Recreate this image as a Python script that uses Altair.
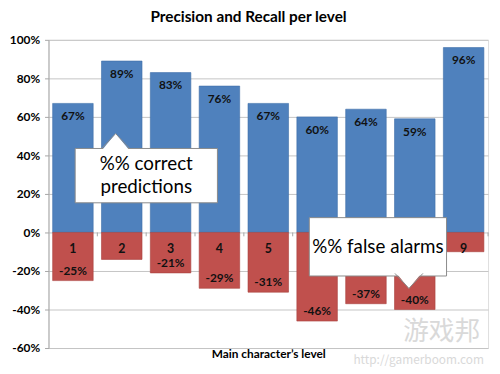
import altair as alt
import pandas as pd

# ---- data ----
levels = [1, 2, 3, 4, 5, 6, 7, 8, 9]
precision = [67, 89, 83, 76, 67, 60, 64, 59, 96]
false_alarms = [-25, -14, -21, -29, -31, -46, -37, -40, -10]
false_label_shown = [True, False, True, True, True, True, True, True, False]
# levels 6-8 are hidden behind the "false alarms" callout in the reference
level_label_shown = [True, True, True, True, True, False, False, False, True]
y_ticks = [-60, -40, -20, 0, 20, 40, 60, 80, 100]

# callout annotations (data units: x = level position, y = percent)
callout_ids = ["correct", "false"]
box_x0 = [1.046, 5.84]
box_x1 = [3.959, 8.65]
box_y0 = [43.6, 7.7]
box_y1 = [15.4, -22.6]
tri_x = [1.875, 7.88]
tri_mid_y = [47.45, -25.15]
tri_up = [True, False]
text_lines = ["%% correct", "predictions", "%% false alarms"]
text_x = [2.502, 2.502, 7.245]
text_y = [35.4, 23.6, -7.7]

# faint watermark in the lower right corner of the reference
wm_text = ["游戏邦", "http://gamerboom.com"]
wm_x = [8.55, 8.08]
wm_y = [-51.5, -66.0]
wm_size = [26, 12]

FONT = "Lato"
BLUE = "#4f81bd"
RED = "#c0504d"
EDGE = "#8a8a8a"

df = pd.DataFrame({
    "level": levels,
    "precision": precision,
    "false": false_alarms,
    "shown": false_label_shown,
    "lvl_shown": level_label_shown,
})

xs = alt.Scale(domain=[0.5, 9.5], nice=False, zero=False)
ys = alt.Scale(domain=[-60, 100], nice=False)

yaxis = alt.Axis(
    title=None, values=y_ticks,
    labelExpr="datum.value + '%'", labelFont=FONT, labelFontSize=12,
    labelFontWeight="bold", labelColor="#000000", labelPadding=5,
    labelOverlap=False, labelBound=False, labelSeparation=0,
    tickSize=4, tickColor="#a6a6a6", domainColor="#a6a6a6",
    gridColor="#c4c4c4")

xaxis = alt.Axis(
    title="Main character\u2019s level", labels=False, ticks=False, domain=False,
    grid=False, titlePadding=1, titleFontSize=12, titleFontWeight="bold",
    titleFont=FONT, titleColor="#000000")


def X(field):
    return alt.X(field, scale=xs, axis=xaxis)


def Y(field):
    return alt.Y(field, scale=ys, axis=yaxis)


base = alt.Chart(df).transform_calculate(
    x0="datum.level - 0.415", x1="datum.level + 0.415", zero="0"
)

wm_df = pd.DataFrame({"t": wm_text, "x": wm_x, "y": wm_y, "s": wm_size})
watermark = alt.Chart(wm_df).mark_text(
    font="Noto Sans CJK SC", color="#d9d9d9", baseline="middle"
).encode(x=X("x:Q"), y=Y("y:Q"), text="t:N",
         size=alt.Size("s:Q", scale=None, legend=None))

pos_bars = base.mark_bar(color=BLUE, stroke="#3f6fa8", strokeWidth=0.6).encode(
    x=X("x0:Q"), x2="x1:Q", y=Y("precision:Q"), y2="zero:Q"
)

neg_bars = base.mark_bar(color=RED, stroke="#a8403d", strokeWidth=0.6).encode(
    x=X("x0:Q"), x2="x1:Q", y=Y("false:Q"), y2="zero:Q"
)

tick_rules = base.transform_calculate(
    bx="datum.level + 0.5", ytop="0", ybot="-2"
).mark_rule(color="#a6a6a6", strokeWidth=1).encode(
    x=X("bx:Q"), y=Y("ytop:Q"), y2="ybot:Q"
)

pos_labels = base.transform_calculate(lbl="datum.precision + '%'").mark_text(
    dy=13, font=FONT, fontSize=12, fontWeight="bold", color="#111111"
).encode(x=X("level:Q"), y=Y("precision:Q"), text="lbl:N")

neg_labels = base.transform_filter("datum.shown").transform_calculate(
    lbl="datum.false + '%'"
).mark_text(dy=-10, font=FONT, fontSize=12, fontWeight="bold", color="#111111").encode(
    x=X("level:Q"), y=Y("false:Q"), text="lbl:N"
)

level_labels = base.transform_filter("datum.lvl_shown").mark_text(
    dy=17, font=FONT, fontSize=12.5, fontWeight="bold", color="#111111"
).encode(x=X("level:Q"), y=Y("zero:Q"), text="level:N")

# callouts
boxes_df = pd.DataFrame({"id": callout_ids, "x0": box_x0, "x1": box_x1,
                         "y0": box_y0, "y1": box_y1})
boxes = alt.Chart(boxes_df).mark_rect(
    fill="white", stroke=EDGE, strokeWidth=1
).encode(x=X("x0:Q"), x2="x1:Q", y=Y("y0:Q"), y2="y1:Q")

pointer_layers = []
for i, cid in enumerate(callout_ids):
    pdf = pd.DataFrame({"x": [tri_x[i]], "y": [tri_mid_y[i]]})
    if tri_up[i]:
        fill_path = "M-1,0.68L0,-0.536L1,0.68Z"
        edge_path = "M-1,0.536L0,-0.536L1,0.536"
    else:
        fill_path = "M-1,-0.68L0,0.536L1,-0.68Z"
        edge_path = "M-1,-0.536L0,0.536L1,-0.536"
    pointer_layers.append(
        alt.Chart(pdf).mark_point(shape=fill_path, size=800, fill="white",
                                  fillOpacity=1, strokeWidth=0, opacity=1)
        .encode(x=X("x:Q"), y=Y("y:Q"))
    )
    pointer_layers.append(
        alt.Chart(pdf).mark_point(shape=edge_path, size=800, fill="transparent",
                                  stroke=EDGE, strokeWidth=1, opacity=1)
        .encode(x=X("x:Q"), y=Y("y:Q"))
    )

text_df = pd.DataFrame({"t": text_lines, "x": text_x, "y": text_y})
callout_text = alt.Chart(text_df).mark_text(
    font=FONT, fontSize=19, color="#000000", baseline="middle"
).encode(x=X("x:Q"), y=Y("y:Q"), text="t:N")

chart = alt.layer(
    watermark, pos_bars, neg_bars, tick_rules, pos_labels, neg_labels,
    level_labels, boxes, *pointer_layers, callout_text
).properties(
    width=445, height=312,
    title=alt.TitleParams("Precision and Recall per level", font=FONT,
                          fontSize=15.5, fontWeight="bold", color="#000000",
                          anchor="middle", dx=-20, offset=9),
    autosize=alt.AutoSizeParams(type="none"),
    padding={"left": 41, "top": 30, "right": 4, "bottom": 20},
).configure_view(stroke=None).configure(background="white").configure_axis(
    labelOverlap=False
)

chart.save("out.html", embed_options={"renderer": "svg", "actions": False})
